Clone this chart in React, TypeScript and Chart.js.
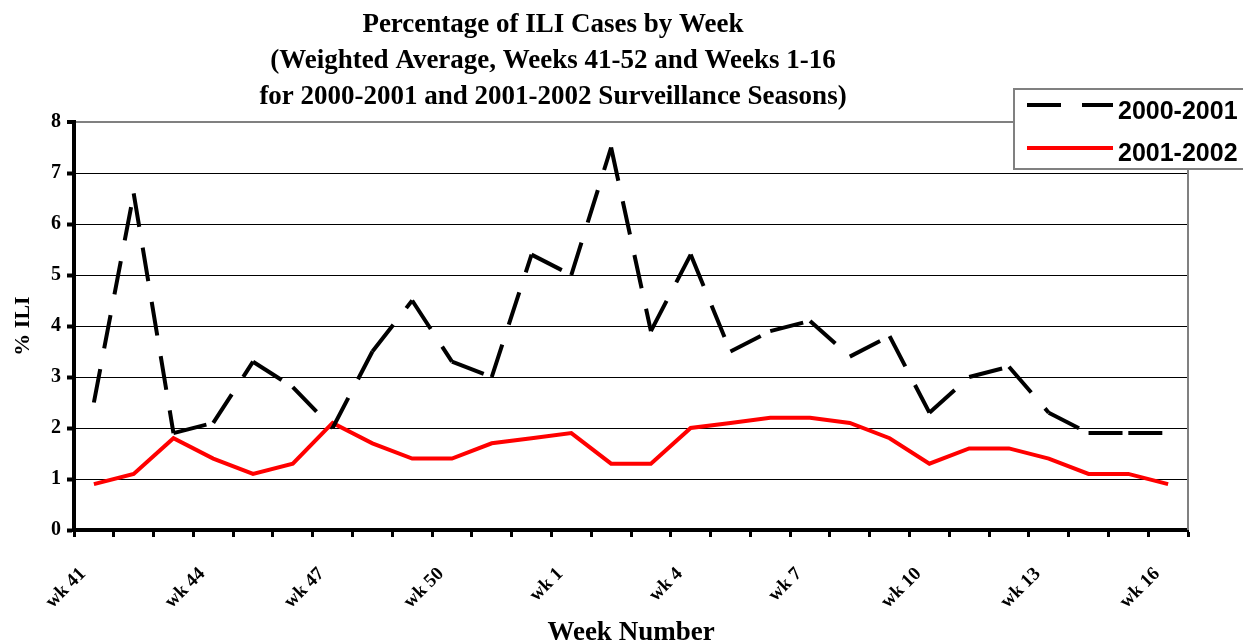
import React, { useEffect, useRef } from 'react';
import { Chart, registerables } from 'chart.js';

Chart.register(...registerables);

const weeks = [
  'wk 41', 'wk 42', 'wk 43', 'wk 44', 'wk 45', 'wk 46', 'wk 47', 'wk 48', 'wk 49', 'wk 50', 'wk 51', 'wk 52',
  'wk 1', 'wk 2', 'wk 3', 'wk 4', 'wk 5', 'wk 6', 'wk 7', 'wk 8', 'wk 9', 'wk 10', 'wk 11', 'wk 12',
  'wk 13', 'wk 14', 'wk 15', 'wk 16',
];

const season2000 = [
  2.5, 6.6, 1.9, 2.1, 3.3, 2.8, 2.0, 3.5, 4.5, 3.3, 3.0, 5.4,
  5.0, 7.5, 3.9, 5.4, 3.5, 3.9, 4.1, 3.4, 3.8, 2.3, 3.0, 3.2,
  2.3, 1.9, 1.9, 1.9,
];

const season2001 = [
  0.9, 1.1, 1.8, 1.4, 1.1, 1.3, 2.1, 1.7, 1.4, 1.4, 1.7, 1.8,
  1.9, 1.3, 1.3, 2.0, 2.1, 2.2, 2.2, 2.1, 1.8, 1.3, 1.6, 1.6,
  1.4, 1.1, 1.1, 0.9,
];

const seriesNames = ['2000-2001', '2001-2002'];

const titleLines = [
  'Percentage of ILI Cases by Week',
  '(Weighted Average, Weeks 41-52 and Weeks 1-16',
  'for 2000-2001 and 2001-2002 Surveillance Seasons)',
];

const yMin = 0;
const yMax = 8;
const yStep = 1;
const labelEvery = 3;

const SERIF = '"Liberation Serif", "Times New Roman", serif';
const SANS = '"Liberation Sans", Arial, sans-serif';

const overlayPlugin = {
  id: 'overlay',
  beforeDatasetsDraw(chart: any) {
    const { ctx, chartArea } = chart;
    ctx.save();
    ctx.strokeStyle = '#808080';
    ctx.lineWidth = 2;
    ctx.beginPath();
    ctx.moveTo(chartArea.right, chartArea.top);
    ctx.lineTo(chartArea.right, chartArea.bottom);
    ctx.stroke();
    ctx.restore();
  },
  afterDraw(chart: any) {
    const { ctx } = chart;
    ctx.save();
    ctx.fillStyle = '#000';
    ctx.font = `bold 27px ${SERIF}`;
    ctx.textAlign = 'center';
    ctx.textBaseline = 'alphabetic';
    titleLines.forEach((t, i) => ctx.fillText(t, 553, 32 + i * 36));

    // legend box
    ctx.fillStyle = '#fff';
    ctx.fillRect(1013, 88, 240, 82);
    ctx.strokeStyle = '#808080';
    ctx.lineWidth = 2;
    ctx.strokeRect(1014, 89, 240, 80);
    chart.data.datasets.forEach((ds: any, i: number) => {
      const y = 105 + i * 43;
      ctx.strokeStyle = ds.borderColor;
      ctx.lineWidth = ds.borderWidth;
      ctx.lineCap = 'butt';
      ctx.setLineDash(ds.borderDash || []);
      ctx.beginPath();
      ctx.moveTo(1027, y);
      ctx.lineTo(1113, y);
      ctx.stroke();
      ctx.setLineDash([]);
      ctx.fillStyle = '#000';
      ctx.font = `bold 25px ${SANS}`;
      ctx.textAlign = 'left';
      ctx.textBaseline = 'middle';
      ctx.fillText(ds.label, 1118, 112 + i * 42.5);
    });
    ctx.restore();
  },
};

export default function App() {
  const ref = useRef<HTMLCanvasElement | null>(null);

  useEffect(() => {
    if (!ref.current) return;
    const chart = new Chart(ref.current, {
      type: 'line',
      data: {
        labels: weeks,
        datasets: [
          {
            label: seriesNames[0],
            data: season2000,
            borderColor: '#000000',
            backgroundColor: '#000000',
            borderWidth: 4,
            borderDash: [34, 21],
            borderJoinStyle: 'miter',
            borderCapStyle: 'butt',
            pointRadius: 0,
            tension: 0,
            // restart the dash pattern at every segment, as the original does
            segment: {
              borderDashOffset: (c: any) => c.p0DataIndex * 0.0001,
            },
          },
          {
            label: seriesNames[1],
            data: season2001,
            borderColor: '#ff0000',
            backgroundColor: '#ff0000',
            borderWidth: 4,
            borderJoinStyle: 'miter',
            pointRadius: 0,
            tension: 0,
          },
        ],
      },
      options: {
        responsive: false,
        animation: false,
        devicePixelRatio: 1,
        layout: { padding: { top: 122, left: 0, right: 55, bottom: 0 } },
        plugins: {
          legend: { display: false },
          title: { display: false },
          tooltip: { enabled: false },
        },
        scales: {
          x: {
            type: 'category',
            offset: true,
            grid: {
              display: true,
              offset: true,
              drawOnChartArea: false,
              drawTicks: true,
              tickLength: 7,
              tickWidth: 3,
              tickColor: '#000',
              color: '#000',
            },
            border: { display: true, color: '#000', width: 4 },
            ticks: {
              autoSkip: false,
              minRotation: 45,
              maxRotation: 45,
              padding: 26,
              labelOffset: -11,
              color: '#000',
              font: { family: SERIF, size: 19, weight: 'bold' },
              callback: (_v: any, i: number) => (i % labelEvery === 0 ? weeks[i] : ''),
            },
            title: {
              display: true,
              text: 'Week Number',
              color: '#000',
              font: { family: SERIF, size: 27, weight: 'bold', lineHeight: 0.6 },
              padding: { top: 0, bottom: 0 },
            },
            afterFit: (scale: any) => {
              scale.height = 111;
            },
          },
          y: {
            min: yMin,
            max: yMax,
            grid: {
              color: (c: any) => (c.tick && c.tick.value === yMax ? '#808080' : '#000'),
              lineWidth: (c: any) => (c.tick && c.tick.value === yMax ? 2 : 1),
              tickLength: 7,
              tickWidth: 4,
              tickColor: '#000',
            },
            border: { display: true, color: '#000', width: 4 },
            ticks: {
              stepSize: yStep,
              padding: 6,
              color: '#000',
              font: { family: SERIF, size: 20, weight: 'bold' },
            },
            title: {
              display: true,
              text: '% ILI',
              color: '#000',
              font: { family: SERIF, size: 22, weight: 'bold' },
              padding: { top: 10, bottom: 0 },
            },
            afterFit: (scale: any) => {
              scale.width = 74;
            },
          },
        },
      },
      plugins: [overlayPlugin],
    } as any);
    return () => chart.destroy();
  }, []);

  return (
    <div style={{ position: 'fixed', left: 0, top: 0, width: 1243, height: 641, background: '#fff' }}>
      <canvas ref={ref} width={1243} height={641} style={{ display: 'block' }} />
    </div>
  );
}
